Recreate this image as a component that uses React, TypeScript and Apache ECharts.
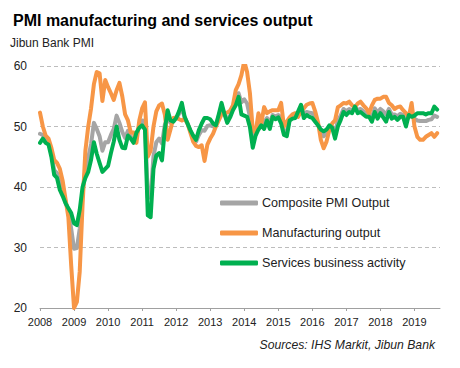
import React, { useEffect, useRef } from "react";
import * as echarts from "echarts";

const startYear = 2008;
const endYear = 2019;
const endMonth = 10; // axis runs through Oct 2019

const seriesNames = ["Composite PMI Output", "Manufacturing output", "Services business activity"];
const seriesColors = ["#a5a5a5", "#f79646", "#00b050"];

const composite = [
  48.8, 48.6, 47.7, 47.3, 45.5, 42.8, 42.3, 40.6, 39.3, 37.5, 36.1, 33.1,
  29.8, 29.9, 33.1, 39.1, 42.9, 44.8, 47.1, 50.6, 49.6, 48.4, 46.0, 47.4,
  47.4, 48.6, 49.6, 51.8, 50.6, 49.1, 48.1, 49.3, 48.3, 47.8, 48.5, 50.2,
  51.0, 50.9, 38.2, 38.3, 45.1, 47.4, 48.0, 47.2, 50.3, 51.2, 50.6, 51.0,
  51.4, 52.1, 53.0, 51.5, 50.5, 49.3, 48.2, 47.5, 48.6, 49.4, 49.3, 50.1,
  50.2, 50.0, 50.1, 51.7, 53.3, 52.1, 51.1, 51.8, 52.9, 54.3, 55.5, 54.0,
  54.5, 53.8, 51.6, 47.4, 48.7, 50.3, 50.3, 50.7, 51.4, 50.5, 51.9, 51.7,
  51.9, 51.5, 49.0, 49.1, 51.2, 51.5, 51.6, 52.2, 53.3, 51.9, 52.4, 52.3,
  52.2, 51.3, 50.4, 49.0, 48.4, 48.9, 50.0, 50.0, 48.9, 51.0, 51.8, 52.9,
  52.5, 52.9, 52.6, 53.3, 52.7, 52.9, 52.5, 52.0, 51.8, 51.6, 53.0, 52.3,
  52.9, 52.5, 52.0, 52.9, 52.0, 52.0, 51.7, 52.1, 51.9, 50.7, 51.8, 52.3,
  51.3, 51.0, 50.9, 50.9, 50.9, 51.1, 51.2, 51.8, 51.6,
];

const manufacturing = [
  52.3, 50.0, 48.5, 48.0, 46.5, 44.5, 44.0, 43.0, 41.0, 38.0, 35.0, 27.0,
  20.0, 21.0, 26.0, 37.0, 46.0, 50.0, 53.0, 57.0, 59.0, 58.8, 54.2, 57.7,
  56.5, 55.5, 54.4, 56.0, 57.2, 55.0, 52.0, 51.0, 49.0, 49.0, 47.3, 51.0,
  53.0, 54.0, 45.0, 46.0, 50.0, 52.5, 53.5, 53.8, 52.0, 47.8, 49.5, 51.4,
  51.5, 51.2, 51.0, 51.3, 50.5, 49.0, 47.5, 46.8, 46.6, 46.9, 44.3, 47.0,
  48.0, 48.8, 50.0, 51.0, 52.0, 52.2, 52.3, 52.6, 53.5, 56.0, 57.0, 58.5,
  60.8, 59.0, 55.5, 49.4, 49.0, 52.2, 50.5, 53.2, 52.2, 52.5, 52.7, 52.7,
  52.7, 53.9, 50.0, 50.8, 51.5, 52.0, 52.2, 51.6, 52.5, 53.0, 53.6, 53.8,
  53.9, 52.5, 50.7, 47.8, 46.4, 47.5, 49.4, 50.5, 51.0, 53.2, 53.5, 53.9,
  53.8, 54.1, 53.5, 53.2, 53.8, 54.1, 53.5, 53.0, 52.2, 53.5, 54.4, 54.6,
  54.6, 54.9, 54.9, 53.9, 53.5, 52.9, 53.2, 53.3, 52.7, 52.2, 51.6, 53.9,
  50.0, 48.3, 47.8, 47.8, 48.3, 48.6, 48.9, 48.3, 48.9,
];

const services = [
  47.3, 48.0, 47.3, 47.0, 45.0, 42.0, 41.5, 39.5, 38.5, 37.3, 36.5, 35.7,
  34.0, 33.7, 36.2, 40.0, 41.5, 42.5, 44.5, 47.4, 45.5, 44.0, 42.5, 43.0,
  43.5, 45.6, 47.5, 50.0, 47.8, 46.5, 46.4, 48.5, 48.0, 47.3, 49.0, 49.8,
  50.2, 49.5, 35.3, 35.0, 43.0, 45.2, 45.6, 44.4, 49.5, 52.7, 51.0, 50.8,
  51.4, 52.5, 53.9, 51.6, 50.5, 49.4, 48.5, 47.8, 49.4, 50.5, 51.4, 51.4,
  51.2, 50.5, 50.2, 52.0, 53.9, 52.1, 50.6, 51.5, 52.7, 53.5, 54.9, 52.0,
  51.8, 51.6, 49.9, 46.5, 48.5, 49.5, 50.2, 49.6, 51.0, 49.6, 51.6, 51.2,
  51.5, 50.5, 48.6, 48.4, 51.0, 51.3, 51.4, 52.5, 53.6, 51.4, 51.9, 51.6,
  51.4, 50.8, 50.2, 49.5, 49.2, 49.5, 50.2, 49.8, 48.0, 50.0, 51.1, 52.4,
  51.9, 52.4, 52.2, 53.3, 52.2, 52.4, 52.0, 51.6, 51.6, 50.8, 52.4, 51.3,
  52.2, 51.5, 50.8, 52.4, 51.3, 51.6, 51.1, 51.6, 51.6, 50.0, 51.9, 51.6,
  51.8, 52.2, 52.2, 52.2, 52.0, 52.2, 52.2, 53.3, 52.8,
];

const yMin = 20;
const yMax = 60;
const yStep = 10;

const months: string[] = [];
for (let y = startYear; y <= endYear; y++) {
  for (let m = 1; m <= 12; m++) {
    if (y === endYear && m > endMonth) break;
    months.push(`${y}-${m < 10 ? "0" + m : m}`);
  }
}

const FONT = "'Liberation Sans', Arial, sans-serif";

export default function App() {
  const ref = useRef<HTMLDivElement>(null);
  useEffect(() => {
    if (!ref.current) return;
    const chart = echarts.init(ref.current, undefined, { renderer: "svg" });
    const values = [composite, manufacturing, services];
    chart.setOption({
      animation: false,
      backgroundColor: "#ffffff",
      textStyle: { fontFamily: FONT },
      title: {
        text: "PMI manufacturing and services output",
        left: 8,
        top: 7,
        textStyle: { fontFamily: FONT, fontSize: 16, fontWeight: "bold", color: "#000" },
      },
      graphic: [
        {
          type: "text",
          left: 10,
          top: 37,
          style: { text: "Jibun Bank PMI", fontFamily: FONT, fontSize: 12, fill: "#222" },
        },
        {
          type: "text",
          right: 25,
          top: 339,
          style: {
            text: "Sources: IHS Markit, Jibun Bank",
            fontFamily: FONT,
            fontSize: 12.2,
            fontStyle: "italic",
            fill: "#222",
          },
        },
      ],
      legend: {
        orient: "vertical",
        left: 215,
        top: 191,
        itemWidth: 38,
        itemHeight: 5,
        itemGap: 16,
        icon: "roundRect",
        data: seriesNames,
        textStyle: { fontFamily: FONT, fontSize: 12.6, color: "#222", lineHeight: 14, padding: [0, 0, 0, -1] },
      },
      grid: { left: 40, right: 20, top: 66, bottom: 60, containLabel: false },
      xAxis: {
        type: "category",
        data: months,
        boundaryGap: false,
        axisLine: { show: true, lineStyle: { color: "#a0a0a0", width: 1 } },
        axisTick: {
          show: true,
          length: 3,
          interval: (i: number) => i % 12 === 0,
          lineStyle: { color: "#a0a0a0" },
        },
        axisLabel: {
          interval: (i: number) => i % 12 === 0,
          formatter: (v: string) => v.slice(0, 4),
          fontFamily: FONT,
          fontSize: 11,
          color: "#222",
          margin: 8,
        },
        splitLine: { show: false },
      },
      yAxis: {
        type: "value",
        min: yMin,
        max: yMax,
        interval: yStep,
        axisLine: { show: false },
        axisTick: { show: false },
        axisLabel: { fontFamily: FONT, fontSize: 12, color: "#222", margin: 13 },
        splitLine: { show: true, lineStyle: { color: "#bdbdbd", type: [4, 3], width: 1 } },
      },
      series: seriesNames.map((name, k) => ({
        name,
        type: "line",
        data: values[k],
        showSymbol: false,
        symbol: "none",
        lineStyle: { width: 4, color: seriesColors[k], cap: "round", join: "round" },
        itemStyle: { color: seriesColors[k] },
        z: 2 + k,
      })),
    });
    return () => chart.dispose();
  }, []);
  return (
    <div
      ref={ref}
      style={{ position: "fixed", left: 0, top: 0, width: 460, height: 368 }}
    />
  );
}
